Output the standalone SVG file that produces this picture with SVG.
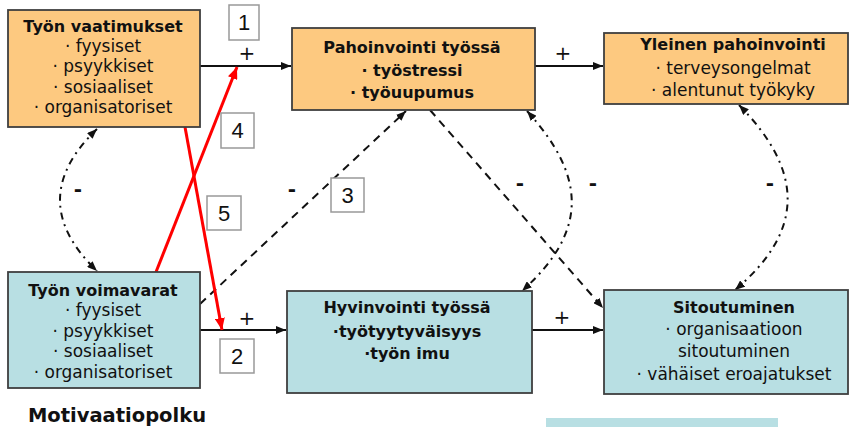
<svg xmlns="http://www.w3.org/2000/svg" width="851" height="427" viewBox="0 0 851 427">
<defs>
<style>
.orange{fill:#FDC980;stroke:#3F3F3F;stroke-width:1.8}
.blue{fill:#B8DFE3;stroke:#3F3F3F;stroke-width:1.8}
.t{font-family:"DejaVu Sans",sans-serif;font-size:17px;fill:#111;text-anchor:middle}
.b{font-weight:bold;font-size:16px}
.lbl{fill:#fff;stroke:#999;stroke-width:1.5}
.num{font-family:"Liberation Sans",Arial,sans-serif;font-size:22px;fill:#111;text-anchor:middle}
.sign{font-family:"DejaVu Sans",sans-serif;font-size:20px;fill:#111;text-anchor:middle}
.minus{font-family:"DejaVu Sans",sans-serif;font-size:20px;font-weight:bold;fill:#111;text-anchor:middle}
.solid{fill:none;stroke:#111;stroke-width:2}
.dash{fill:none;stroke:#111;stroke-width:2;stroke-dasharray:8 6}
.dd{fill:none;stroke:#111;stroke-width:2;stroke-dasharray:7 5 2 5}
.red{fill:none;stroke:#FF0000;stroke-width:3}
</style>
<marker id="ah" viewBox="0 0 10 8" refX="10" refY="4" markerWidth="10" markerHeight="8" markerUnits="userSpaceOnUse" orient="auto-start-reverse">
<path d="M0,0 L10,4 L0,8 z" fill="#111"/>
</marker>
<marker id="ahr" viewBox="0 0 12 10" refX="12" refY="5" markerWidth="12" markerHeight="10" markerUnits="userSpaceOnUse" orient="auto">
<path d="M0,0 L12,5 L0,10 z" fill="#FF0000"/>
</marker>
</defs>
<rect width="851" height="427" fill="#fff"/>

<g id="connectors">
<line class="solid" x1="200" y1="66" x2="291" y2="66" marker-end="url(#ah)"/>
<line class="solid" x1="535" y1="66" x2="603" y2="66" marker-end="url(#ah)"/>
<line class="solid" x1="200" y1="330" x2="286" y2="330" marker-end="url(#ah)"/>
<line class="solid" x1="532" y1="330" x2="603" y2="330" marker-end="url(#ah)"/>
<line class="dash" x1="200" y1="304" x2="406" y2="111" marker-end="url(#ah)"/>
<line class="dash" x1="430" y1="110" x2="603" y2="308" marker-end="url(#ah)"/>
<path class="dd" d="M97,129 Q23,200 97,271" marker-start="url(#ah)" marker-end="url(#ah)"/>
<path class="dd" d="M527,111 C585,175 590,230 522,291" marker-start="url(#ah)" marker-end="url(#ah)"/>
<path class="dd" d="M739,105 C803,170 806,230 735,290" marker-start="url(#ah)" marker-end="url(#ah)"/>
<line class="red" x1="156" y1="272" x2="237" y2="67" marker-end="url(#ahr)"/>
<line class="red" x1="185" y1="127" x2="222" y2="330" marker-end="url(#ahr)"/>
<text class="sign" x="247" y="60">+</text>
<text class="sign" x="563" y="60">+</text>
<text class="sign" x="247" y="325">+</text>
<text class="sign" x="562" y="324">+</text>
<text class="minus" x="78" y="196">-</text>
<text class="minus" x="292" y="196">-</text>
<text class="minus" x="520" y="190">-</text>
<text class="minus" x="593" y="190">-</text>
<text class="minus" x="770" y="190">-</text>
</g>

<g id="label1"><rect class="lbl" x="229" y="5" width="30" height="35"/><text class="num" x="244" y="30">1</text></g>
<g id="label2"><rect class="lbl" x="220" y="339" width="34" height="34"/><text class="num" x="237" y="364">2</text></g>
<g id="label3"><rect class="lbl" x="331" y="178" width="33" height="34"/><text class="num" x="347.5" y="203">3</text></g>
<g id="label4"><rect class="lbl" x="221" y="113" width="33" height="35"/><text class="num" x="237.5" y="138">4</text></g>
<g id="label5"><rect class="lbl" x="207" y="196" width="34" height="34"/><text class="num" x="224" y="221">5</text></g>

<g id="tyon-vaatimukset">
<rect class="orange" x="8" y="10" width="192" height="117"/>
<text class="t b" x="103" y="32">Työn vaatimukset</text>
<text class="t" x="103" y="52">· fyysiset</text>
<text class="t" x="103" y="72">· psyykkiset</text>
<text class="t" x="103" y="93">· sosiaaliset</text>
<text class="t" x="103" y="113">· organisatoriset</text>
</g>

<g id="pahoinvointi">
<rect class="orange" x="292" y="28" width="243" height="82"/>
<text class="t b" x="412" y="53">Pahoinvointi työssä</text>
<text class="t b" x="412" y="76">· työstressi</text>
<text class="t b" x="412" y="98">· työuupumus</text>
</g>

<g id="yleinen">
<rect class="orange" x="604" y="33" width="244" height="71"/>
<text class="t b" x="733" y="50">Yleinen pahoinvointi</text>
<text class="t" x="733" y="74">· terveysongelmat</text>
<text class="t" x="733" y="96">· alentunut työkyky</text>
</g>

<g id="tyon-voimavarat">
<rect class="blue" x="8" y="272" width="192" height="116"/>
<text class="t b" x="103" y="296">Työn voimavarat</text>
<text class="t" x="103" y="316">· fyysiset</text>
<text class="t" x="103" y="337">· psyykkiset</text>
<text class="t" x="103" y="357">· sosiaaliset</text>
<text class="t" x="103" y="378">· organisatoriset</text>
</g>

<g id="hyvinvointi">
<rect class="blue" x="287" y="291" width="245" height="102"/>
<text class="t b" x="407" y="313">Hyvinvointi työssä</text>
<text class="t b" x="407" y="337">·työtyytyväisyys</text>
<text class="t b" x="407" y="359">·työn imu</text>
</g>

<g id="sitoutuminen">
<rect class="blue" x="604" y="290" width="244" height="104"/>
<text class="t b" x="734" y="313">Sitoutuminen</text>
<text class="t" x="734" y="335">· organisaatioon</text>
<text class="t" x="734" y="357">sitoutuminen</text>
<text class="t" x="734" y="380">· vähäiset eroajatukset</text>
</g>

<g id="source-box">
<rect x="546" y="418" width="232" height="12" fill="#B8DFE3"/>
</g>

<g id="title">
<text x="117" y="422" style="font-family:'DejaVu Sans',sans-serif;font-weight:bold;font-size:19.5px;fill:#111;text-anchor:middle">Motivaatiopolku</text>
</g>
</svg>
